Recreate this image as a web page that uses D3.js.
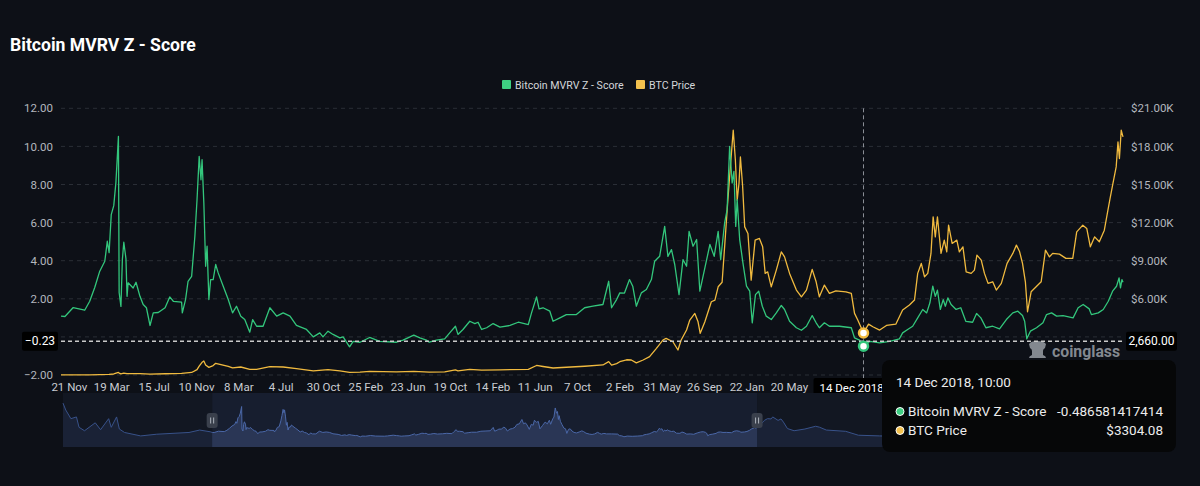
<!DOCTYPE html>
<html>
<head>
<meta charset="utf-8">
<script src="https://cdn.jsdelivr.net/npm/d3@7/dist/d3.min.js"></script>
<style>
  html, body { margin: 0; padding: 0; background: #0d1017; }
  svg { display: block; font-family: Roboto, "Noto Sans", sans-serif; }
</style>
</head>
<body>
<div id="chart"></div>
<script>
// values
const mvrvZ = [
  ["2012-10-30",1.09],["2012-11-10",1.07],["2012-12-03",1.54],["2013-01-04",1.40],["2013-01-18",1.87],
  ["2013-02-01",2.59],["2013-02-15",3.45],["2013-03-01",3.97],["2013-03-08",5.02],["2013-03-13",4.42],
  ["2013-03-19",6.42],["2013-03-26",6.89],["2013-04-01",8.11],["2013-04-08",10.52],["2013-04-10",2.33],
  ["2013-04-15",1.60],["2013-04-19",4.06],["2013-04-23",4.97],["2013-04-29",4.10],["2013-05-02",2.13],
  ["2013-05-05",2.84],["2013-05-19",2.57],["2013-05-27",2.87],["2013-06-07",2.13],["2013-06-16",1.70],
  ["2013-06-25",1.53],["2013-07-05",0.60],["2013-07-14",1.26],["2013-07-28",1.28],["2013-08-16",1.53],
  ["2013-08-29",2.10],["2013-09-08",1.87],["2013-10-01",1.82],["2013-10-03",1.26],["2013-10-12",1.96],
  ["2013-10-19",2.92],["2013-10-29",3.18],["2013-11-07",5.28],["2013-11-13",7.20],["2013-11-19",9.47],
  ["2013-11-24",8.25],["2013-11-27",9.30],["2013-12-02",7.03],["2013-12-07",3.71],["2013-12-11",4.76],
  ["2013-12-16",1.96],["2013-12-21",3.01],["2013-12-28",3.01],["2014-01-04",3.80],["2014-01-11",3.36],
  ["2014-01-25",2.66],["2014-02-08",1.96],["2014-02-20",1.26],["2014-03-03",1.61],["2014-03-15",1.09],
  ["2014-03-26",0.91],["2014-04-09",0.25],["2014-04-17",0.91],["2014-04-28",0.56],["2014-05-16",0.56],
  ["2014-06-04",1.53],["2014-06-23",1.09],["2014-07-11",1.26],["2014-07-30",1.09],["2014-08-17",0.60],
  ["2014-09-14",0.39],["2014-10-03",0.00],["2014-10-21",0.21],["2014-10-30",0.00],["2014-11-13",0.30],
  ["2014-11-27",0.13],["2014-12-16",-0.05],["2014-12-25",0.00],["2015-01-12",-0.52],["2015-01-22",-0.23],
  ["2015-02-10",-0.28],["2015-03-09",-0.03],["2015-04-06",-0.23],["2015-05-23",-0.28],["2015-06-10",-0.17],
  ["2015-07-10",0.09],["2015-07-27",-0.05],["2015-08-14",-0.17],["2015-08-22",-0.28],["2015-09-11",-0.17],
  ["2015-10-04",-0.10],["2015-10-18",0.21],["2015-11-03",0.56],["2015-11-10",0.13],["2015-11-24",0.39],
  ["2015-12-13",0.82],["2015-12-27",0.70],["2016-01-05",0.77],["2016-01-15",0.39],["2016-01-29",0.48],
  ["2016-02-16",0.70],["2016-03-06",0.51],["2016-04-03",0.60],["2016-04-26",0.77],["2016-05-24",0.65],
  ["2016-06-02",1.26],["2016-06-16",2.10],["2016-06-23",1.47],["2016-07-04",1.53],["2016-07-23",1.35],
  ["2016-08-01",0.82],["2016-08-20",1.00],["2016-09-07",1.17],["2016-10-05",1.17],["2016-10-28",1.53],
  ["2016-11-20",1.61],["2016-12-18",1.70],["2017-01-03",2.92],["2017-01-11",1.53],["2017-01-25",1.96],
  ["2017-02-03",2.31],["2017-02-16",2.30],["2017-03-02",3.01],["2017-03-11",2.66],["2017-03-21",1.61],
  ["2017-04-04",2.31],["2017-04-18",2.49],["2017-05-02",3.01],["2017-05-11",3.97],["2017-05-25",4.23],
  ["2017-06-08",5.80],["2017-06-17",4.23],["2017-06-27",4.58],["2017-07-06",3.80],["2017-07-18",2.22],
  ["2017-07-29",4.06],["2017-08-08",3.71],["2017-08-15",5.54],["2017-08-26",4.76],["2017-09-05",5.11],
  ["2017-09-14",2.40],["2017-09-28",3.62],["2017-10-12",4.85],["2017-10-24",4.23],["2017-11-04",5.54],
  ["2017-11-11",4.06],["2017-11-22",5.98],["2017-11-29",6.68],["2017-12-06",10.00],["2017-12-13",8.08],
  ["2017-12-18",8.69],["2017-12-23",5.80],["2017-12-27",7.20],["2018-01-03",5.11],["2018-01-12",3.89],
  ["2018-01-22",2.66],["2018-01-31",2.40],["2018-02-07",0.74],["2018-02-16",2.22],["2018-02-25",2.40],
  ["2018-03-07",1.61],["2018-03-18",1.09],["2018-04-01",0.91],["2018-04-15",1.26],["2018-04-29",1.65],
  ["2018-05-08",1.44],["2018-05-22",0.82],["2018-06-10",0.48],["2018-06-24",0.35],["2018-07-08",0.56],
  ["2018-07-24",1.12],["2018-08-04",0.74],["2018-08-13",0.48],["2018-08-27",0.74],["2018-09-10",0.56],
  ["2018-10-08",0.56],["2018-11-10",0.48],["2018-11-19",-0.05],["2018-12-03",-0.17],["2018-12-14",-0.49],
  ["2019-01-01",-0.23],["2019-01-28",-0.31],["2019-02-25",-0.23],["2019-03-24",-0.10],["2019-04-02",0.21],
  ["2019-04-16",0.39],["2019-04-30",0.56],["2019-05-14",1.00],["2019-05-28",1.44],["2019-06-08",1.26],
  ["2019-06-17",1.79],["2019-06-25",2.66],["2019-07-02",2.13],["2019-07-08",2.45],["2019-07-16",1.44],
  ["2019-07-24",1.96],["2019-07-30",1.61],["2019-08-06",2.05],["2019-08-15",1.70],["2019-08-29",1.44],
  ["2019-09-11",1.53],["2019-09-25",0.82],["2019-10-14",0.77],["2019-10-25",1.23],["2019-11-06",1.00],
  ["2019-11-20",0.48],["2019-12-09",0.56],["2019-12-28",0.42],["2020-01-16",0.91],["2020-02-03",1.26],
  ["2020-02-17",1.35],["2020-03-01",1.12],["2020-03-07",0.82],["2020-03-13",-0.10],["2020-03-23",0.30],
  ["2020-04-09",0.48],["2020-04-27",0.74],["2020-05-07",1.17],["2020-05-21",1.26],["2020-06-04",1.09],
  ["2020-06-22",1.12],["2020-07-20",1.00],["2020-08-03",1.53],["2020-08-17",1.70],["2020-09-03",1.47],
  ["2020-09-09",1.17],["2020-09-28",1.26],["2020-10-12",1.44],["2020-10-26",1.87],["2020-11-07",2.40],
  ["2020-11-18",2.66],["2020-11-25",3.10],["2020-11-29",2.57],["2020-12-03",3.01],["2020-12-06",2.87]
];

const btcPrice = [
  ["2012-10-30",11],["2012-12-03",13],["2013-01-18",16],["2013-02-15",27],["2013-03-13",47],
  ["2013-03-26",80],["2013-04-08",200],["2013-04-10",150],["2013-04-15",90],["2013-04-23",140],
  ["2013-05-02",105],["2013-06-07",110],["2013-07-05",75],["2013-08-16",100],["2013-10-01",130],
  ["2013-10-29",200],["2013-11-13",420],["2013-11-19",700],["2013-11-27",1000],["2013-12-02",1100],
  ["2013-12-07",780],["2013-12-16",600],["2013-12-28",740],["2014-01-04",920],["2014-02-08",680],
  ["2014-02-20",560],["2014-03-15",630],["2014-04-09",440],["2014-04-28",440],["2014-06-04",660],
  ["2014-07-11",630],["2014-08-17",500],["2014-10-03",330],["2014-11-13",420],["2014-12-16",330],
  ["2015-01-12",200],["2015-02-10",220],["2015-03-09",280],["2015-05-23",240],["2015-07-10",280],
  ["2015-08-22",230],["2015-10-04",240],["2015-11-03",400],["2015-11-10",330],["2015-12-13",440],
  ["2016-01-15",380],["2016-03-06",410],["2016-05-24",450],["2016-06-16",750],["2016-07-04",670],
  ["2016-08-01",550],["2016-09-07",610],["2016-10-28",690],["2016-12-18",790],["2017-01-03",1050],
  ["2017-01-11",780],["2017-01-25",900],["2017-02-03",1046],["2017-02-22",1200],["2017-03-07",1180],
  ["2017-03-21",950],["2017-04-09",1180],["2017-04-27",1450],["2017-05-16",2100],["2017-06-03",2753],
  ["2017-06-12",2887],["2017-07-01",2620],["2017-07-15",1967],["2017-07-24",2753],["2017-08-08",3540],
  ["2017-08-17",4326],["2017-08-31",4850],["2017-09-09",4190],["2017-09-15",3280],["2017-09-28",4190],
  ["2017-10-16",5765],["2017-10-26",5900],["2017-11-04",6945],["2017-11-15",7300],["2017-11-22",10090],
  ["2017-12-01",13765],["2017-12-08",16385],["2017-12-16",19270],["2017-12-22",16910],["2017-12-27",13765],
  ["2018-01-01",15080],["2018-01-05",17170],["2018-01-11",14945],["2018-01-17",11665],["2018-01-26",11145],
  ["2018-02-04",7473],["2018-02-15",10620],["2018-02-27",10750],["2018-03-08",10090],["2018-03-15",8000],
  ["2018-03-22",8125],["2018-04-01",6945],["2018-04-15",8260],["2018-04-29",9700],["2018-05-08",9305],
  ["2018-05-22",8000],["2018-06-10",6686],["2018-06-24",6160],["2018-07-08",6686],["2018-07-24",8314],
  ["2018-08-04",7340],["2018-08-13",6160],["2018-08-27",7080],["2018-09-10",6426],["2018-09-28",6630],
  ["2018-10-26",6550],["2018-11-10",6426],["2018-11-19",4850],["2018-11-28",4326],["2018-12-14",3304.08],
  ["2018-12-28",4010],["2019-01-09",3800],["2019-01-28",3540],["2019-02-16",3900],["2019-03-14",4000],
  ["2019-04-02",5113],["2019-04-21",5506],["2019-05-05",5900],["2019-05-14",8000],["2019-05-24",8786],
  ["2019-06-02",7733],["2019-06-11",8000],["2019-06-20",9573],["2019-06-26",12452],["2019-07-02",10880],
  ["2019-07-08",12452],["2019-07-18",9573],["2019-07-27",10620],["2019-08-03",9700],["2019-08-08",11800],
  ["2019-08-18",10360],["2019-08-31",10620],["2019-09-07",9700],["2019-09-17",10090],["2019-09-26",8125],
  ["2019-10-10",8000],["2019-10-19",8260],["2019-10-26",9440],["2019-11-07",9046],["2019-11-16",8000],
  ["2019-11-26",7213],["2019-12-09",7340],["2019-12-19",6686],["2020-01-02",7213],["2020-01-18",8786],
  ["2020-02-03",9573],["2020-02-13",10226],["2020-02-22",9700],["2020-03-01",8786],["2020-03-09",7340],
  ["2020-03-15",4980],["2020-03-25",6550],["2020-04-08",6945],["2020-04-22",7340],["2020-05-04",9830],
  ["2020-05-15",9305],["2020-05-24",9573],["2020-06-12",9520],["2020-06-30",9180],["2020-07-19",9180],
  ["2020-07-30",11270],["2020-08-16",11800],["2020-08-27",11540],["2020-09-06",10090],["2020-09-18",10880],
  ["2020-10-01",10490],["2020-10-15",11400],["2020-10-25",12980],["2020-10-31",13900],["2020-11-08",15080],
  ["2020-11-17",16385],["2020-11-22",18350],["2020-11-26",17045],["2020-12-01",19270],["2020-12-06",18745]
];

// Z-score outside the zoomed window (only seen in the slider overview)
const mvrvZEarly = [
  ["2010-08-12",11.75],["2010-08-27",9.24],["2010-09-24",6.10],["2010-10-24",6.73],["2010-11-07",2.96],
  ["2010-12-07",1.71],["2011-02-03",4.60],["2011-03-04",2.09],["2011-04-17",6.10],["2011-05-01",2.96],
  ["2011-05-30",6.73],["2011-06-14",2.34],["2011-07-12",1.08],["2011-10-08",-0.17],["2012-01-03",0.45],
  ["2012-06-26",1.08],["2012-08-23",1.96],["2012-10-20",1.33]
];
const mvrvZLate = [
  ["2020-12-25",3.90],["2021-01-15",5.50],["2021-02-01",6.10],["2021-02-20",6.00],["2021-03-01",6.73],
  ["2021-03-30",5.47],["2021-04-15",6.00],["2021-04-28",4.85],["2021-05-20",2.50],["2021-06-25",1.71],
  ["2021-08-23",2.34],["2021-10-20",3.34],["2021-11-10",3.00],["2021-12-17",1.96],["2022-02-13",1.71],
  ["2022-04-01",1.50],["2022-06-09",0.08],["2022-10-03",-0.17],["2023-01-01",-0.30],["2023-07-01",0.50],
  ["2024-03-15",2.90],["2024-09-01",1.40],["2024-12-15",2.80],["2025-06-01",2.40],["2025-12-01",1.40]
];

// tick labels left visible in the reference (the rest sit under the pointer labels / tooltip)
const xTickDates = ["2012-11-21","2013-03-19","2013-07-15","2013-11-10","2014-03-08","2014-07-04",
  "2014-10-30","2015-02-25","2015-06-23","2015-10-19","2016-02-14","2016-06-11","2016-10-07",
  "2017-02-02","2017-05-31","2017-09-26","2018-01-22","2018-05-20"];
const zTicks = [-2, 0, 2, 4, 6, 8, 10, 12];
const zTickLabels = [-2, 2, 4, 6, 8, 10, 12];
const priceTickLabels = [6000, 9000, 12000, 15000, 18000, 21000];

const windowRange = ["2012-10-30", "2020-12-06"];
const overviewRange = ["2010-08-12", "2026-05-16"];

const hover = { date: "2018-12-14", label: "14 Dec 2018, 10:00", axisLabel: "14 Dec 2018,",
  z: -0.486581417414, price: 3304.08 };
const cursor = { z: -0.23, price: 2660 };

const W = 1200, H = 486;
const plot = { left: 61, right: 1123, top: 108.3, bottom: 375 };
const slider = { left: 63, right: 1123, top: 393, bottom: 447 };
const GREEN = '#33c67c', YELLOW = '#f0ba3f';

const parse = d3.timeParse('%Y-%m-%d');

const svg = d3.select('#chart').append('svg')
  .attr('width', W).attr('height', H).attr('viewBox', `0 0 ${W} ${H}`);

svg.append('rect').attr('width', W).attr('height', H).attr('fill', '#0d1017');

// Title + legend
svg.append('text').attr('x', 10).attr('y', 51).attr('fill', '#fff')
  .attr('font-size', 17.6).attr('font-weight', 700).text('Bitcoin MVRV Z - Score');

const legend = [
  { name: 'Bitcoin MVRV Z - Score', color: '#3ecf82', x: 502 },
  { name: 'BTC Price', color: '#f2c14e', x: 636 }
];
legend.forEach((l) => {
  svg.append('rect').attr('x', l.x).attr('y', 80).attr('width', 9).attr('height', 9)
    .attr('rx', 1).attr('fill', l.color);
  svg.append('text').attr('x', l.x + 13).attr('y', 88.5).attr('fill', '#d4d6da')
    .attr('font-size', 10.6).text(l.name);
});

// Scales
const x = d3.scaleTime().domain(windowRange.map(parse)).range([plot.left, plot.right]);
const yZ = d3.scaleLinear().domain([-2, 12]).range([plot.bottom, plot.top]);
const yP = d3.scaleLinear().domain([0, 21000]).range([plot.bottom, plot.top]);

// Grid lines
const grid = svg.append('g');
grid.selectAll('line').data(zTicks).join('line')
  .attr('x1', plot.left).attr('x2', plot.right)
  .attr('y1', (d) => yZ(d)).attr('y2', (d) => yZ(d))
  .attr('stroke', '#2a2e36').attr('stroke-dasharray', '4,4');

// Axes
const leftAxis = svg.append('g').attr('transform', `translate(${plot.left},0)`)
  .call(d3.axisLeft(yZ).tickValues(zTickLabels).tickSize(0).tickPadding(8).tickFormat(d3.format('.2f')));
const rightAxis = svg.append('g').attr('transform', `translate(${plot.right},0)`)
  .call(d3.axisRight(yP).tickValues(priceTickLabels).tickSize(0).tickPadding(8)
    .tickFormat((d) => '$' + (d / 1000).toFixed(2) + 'K'));
const bottomAxis = svg.append('g').attr('transform', `translate(0,${plot.bottom})`)
  .call(d3.axisBottom(x).tickValues(xTickDates.map(parse)).tickSize(0).tickPadding(8)
    .tickFormat(d3.timeFormat('%-d %b')));
[leftAxis, rightAxis, bottomAxis].forEach((ax) => {
  ax.select('.domain').remove();
  ax.selectAll('text').attr('font-size', 11.5).attr('font-family', 'Roboto, sans-serif');
});
leftAxis.selectAll('text').attr('fill', '#b3b7be');
rightAxis.selectAll('text').attr('fill', '#b3b7be');
bottomAxis.selectAll('text').attr('fill', '#c9ccd2');

// Lines
svg.append('clipPath').attr('id', 'plotclip').append('rect')
  .attr('x', plot.left).attr('y', plot.top - 10)
  .attr('width', plot.right - plot.left + 1).attr('height', plot.bottom - plot.top + 12);

const zLine = d3.line().x((d) => x(parse(d[0]))).y((d) => yZ(d[1]));
const pLine = d3.line().x((d) => x(parse(d[0]))).y((d) => yP(d[1]));

const lines = svg.append('g').attr('clip-path', 'url(#plotclip)');
lines.append('path').datum(btcPrice).attr('d', pLine)
  .attr('fill', 'none').attr('stroke', YELLOW).attr('stroke-width', 1.3).attr('stroke-linejoin', 'round');
lines.append('path').datum(mvrvZ).attr('d', zLine)
  .attr('fill', 'none').attr('stroke', GREEN).attr('stroke-width', 1.3).attr('stroke-linejoin', 'round');

// Watermark
const wm = svg.append('g').attr('fill', '#90959d').attr('opacity', 0.9);
wm.append('path')
  .attr('d', 'M1029,344 q2,-3 8,-3 q7,0 9,3 l-1,4 q-2,1 -2,3 l0,4 q3,1 3,3 l-17,0 q0,-2 3,-3 l0,-4 q0,-2 -2,-3 z');
wm.append('text').attr('x', 1052).attr('y', 357).attr('font-size', 15.8).attr('font-weight', 700)
  .text('coinglass');

// Crosshair
const hx = x(parse(hover.date));
const cy = yZ(cursor.z);
svg.append('line').attr('x1', hx).attr('x2', hx).attr('y1', plot.top).attr('y2', plot.bottom + 3)
  .attr('stroke', '#8a8e96').attr('stroke-dasharray', '4,3');
svg.append('line').attr('x1', plot.left).attr('x2', plot.right).attr('y1', cy).attr('y2', cy)
  .attr('stroke', '#c9c9c9').attr('stroke-width', 1.4).attr('stroke-dasharray', '4,3');

svg.append('circle').attr('cx', hx).attr('cy', yP(hover.price)).attr('r', 4.5)
  .attr('fill', '#fff').attr('stroke', YELLOW).attr('stroke-width', 2.5);
svg.append('circle').attr('cx', hx).attr('cy', yZ(hover.z)).attr('r', 4.5)
  .attr('fill', '#fff').attr('stroke', GREEN).attr('stroke-width', 2.5);

// Axis pointer labels
svg.append('rect').attr('x', 22).attr('y', cy - 9.5).attr('width', 36).attr('height', 19)
  .attr('rx', 2).attr('fill', '#000');
svg.append('text').attr('x', 40).attr('y', cy + 4).attr('text-anchor', 'middle')
  .attr('fill', '#fff').attr('font-size', 12).text(d3.format('.2f')(cursor.z));
svg.append('rect').attr('x', 1126).attr('y', cy - 9.5).attr('width', 51).attr('height', 19)
  .attr('rx', 2).attr('fill', '#000');
svg.append('text').attr('x', 1151.5).attr('y', cy + 4).attr('text-anchor', 'middle')
  .attr('fill', '#fff').attr('font-size', 12).text(d3.format(',.2f')(cursor.price));

svg.append('rect').attr('x', hx - 50).attr('y', 378).attr('width', 100).attr('height', 20)
  .attr('rx', 2).attr('fill', '#000');
svg.append('text').attr('x', hx - 44).attr('y', 392).attr('fill', '#fff')
  .attr('font-size', 11.5).text(hover.axisLabel);

// Data-zoom slider
const overview = mvrvZEarly.concat(mvrvZ, mvrvZLate);
const xs = d3.scaleTime().domain(overviewRange.map(parse)).range([slider.left, slider.right]);
const ext = d3.extent(overview, (d) => d[1]);
const pad = (ext[1] - ext[0]) * 0.3;
const ys = d3.scaleLinear().domain([ext[0] - pad, ext[1] + pad]).range([slider.bottom, slider.top]);

const wx0 = xs(parse(windowRange[0])), wx1 = xs(parse(windowRange[1]));

svg.append('rect').attr('x', slider.left).attr('y', slider.top)
  .attr('width', slider.right - slider.left).attr('height', slider.bottom - slider.top)
  .attr('fill', '#121722');

const sArea = d3.area().x((d) => xs(parse(d[0]))).y0(slider.bottom).y1((d) => ys(d[1]));
const sLine = d3.line().x((d) => xs(parse(d[0]))).y((d) => ys(d[1]));

svg.append('path').datum(overview).attr('d', sArea).attr('fill', '#1a2236');
svg.append('path').datum(overview).attr('d', sLine).attr('fill', 'none')
  .attr('stroke', '#38528a').attr('stroke-width', 1);

svg.append('clipPath').attr('id', 'winclip').append('rect')
  .attr('x', wx0).attr('y', slider.top).attr('width', wx1 - wx0).attr('height', slider.bottom - slider.top);
const win = svg.append('g').attr('clip-path', 'url(#winclip)');
win.append('rect').attr('x', wx0).attr('y', slider.top).attr('width', wx1 - wx0)
  .attr('height', slider.bottom - slider.top).attr('fill', '#171e2f');
win.append('path').datum(overview).attr('d', sArea).attr('fill', '#2a3655');
win.append('path').datum(overview).attr('d', sLine).attr('fill', 'none')
  .attr('stroke', '#4b68a8').attr('stroke-width', 1);

[wx0, wx1].forEach((hxh) => {
  svg.append('rect').attr('x', hxh - 5.5).attr('y', 413).attr('width', 11).attr('height', 15)
    .attr('rx', 3).attr('fill', '#3a404c');
  [-1.5, 1.5].forEach((o) => {
    svg.append('line').attr('x1', hxh + o).attr('x2', hxh + o).attr('y1', 417.5).attr('y2', 423.5)
      .attr('stroke', '#aeb3bc').attr('stroke-width', 1);
  });
});

// Tooltip
const tip = svg.append('g').attr('transform', 'translate(882,360)');
tip.append('rect').attr('width', 294).attr('height', 92).attr('rx', 8).attr('fill', '#060708');
tip.append('text').attr('x', 14).attr('y', 27).attr('fill', '#ececec').attr('font-size', 13.5)
  .text(hover.label);
const rows = [
  { name: 'Bitcoin MVRV Z - Score', color: '#3ecf82', value: String(hover.z), y: 56 },
  { name: 'BTC Price', color: '#f2c14e', value: '$' + hover.price.toFixed(2), y: 75 }
];
rows.forEach((r) => {
  tip.append('circle').attr('cx', 18).attr('cy', r.y - 4.5).attr('r', 4)
    .attr('fill', r.color).attr('stroke', '#fff').attr('stroke-width', 1);
  tip.append('text').attr('x', 26).attr('y', r.y).attr('fill', '#ececec').attr('font-size', 13.5)
    .text(r.name);
  tip.append('text').attr('x', 281).attr('y', r.y).attr('text-anchor', 'end')
    .attr('fill', '#ececec').attr('font-size', 13.5).text(r.value);
});
</script>
</body>
</html>
